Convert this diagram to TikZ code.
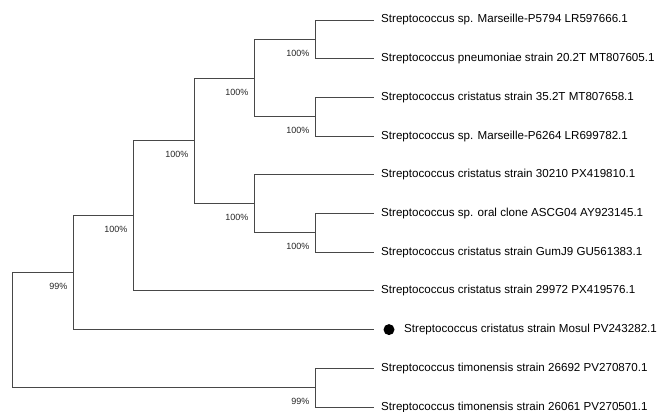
\documentclass[tikz,border=0pt]{standalone}
\usepackage{fontspec}
\setmainfont{Liberation Sans}
\begin{document}
\begin{tikzpicture}[x=1pt,y=-1pt,
  branch/.style={draw=black!72,line width=0.9pt},
  leaflabel/.style={anchor=west,inner sep=0pt,font=\fontsize{11.6}{13}\selectfont,text=black},
  boot/.style={anchor=east,inner sep=0pt,font=\fontsize{9}{10}\selectfont,text=black!85},
  dot/.style={circle,fill=black,inner sep=0pt,minimum size=11pt}]
\useasboundingbox (0,0) rectangle (662,412);
% leaf tips
\foreach \i in {1,...,11}{\coordinate (l\i) at (374,{20+38.7*(\i-1)});}
% internal nodes
\coordinate (A) at (315,39.35);
\coordinate (B) at (315,116.75);
\coordinate (C) at (254,78.05);
\coordinate (D) at (315,232.85);
\coordinate (E) at (254,203.8);
\coordinate (F) at (194,140.9);
\coordinate (G) at (133,215.9);
\coordinate (H) at (73,272.8);
\coordinate (I) at (315,387.65);
\coordinate (R) at (12.3,330.2);
% branches
\draw[branch] (A) |- (l1); \draw[branch] (A) |- (l2);
\draw[branch] (B) |- (l3); \draw[branch] (B) |- (l4);
\draw[branch] (C) |- (A); \draw[branch] (C) |- (B);
\draw[branch] (D) |- (l6); \draw[branch] (D) |- (l7);
\draw[branch] (E) |- (l5); \draw[branch] (E) |- (D);
\draw[branch] (F) |- (C); \draw[branch] (F) |- (E);
\draw[branch] (G) |- (F); \draw[branch] (G) |- (l8);
\draw[branch] (H) |- (G); \draw[branch] (H) |- (l9);
\draw[branch] (I) |- (l10); \draw[branch] (I) |- (l11);
\draw[branch] (R) |- (H); \draw[branch] (R) |- (I);
% leaf labels
\node[leaflabel] (t1) at ([xshift=7]l1) {Streptococcus sp. Marseille-P5794 LR597666.1};
\node[leaflabel] (t2) at ([xshift=7]l2) {Streptococcus pneumoniae strain 20.2T MT807605.1};
\node[leaflabel] (t3) at ([xshift=7]l3) {Streptococcus cristatus strain 35.2T MT807658.1};
\node[leaflabel] (t4) at ([xshift=7]l4) {Streptococcus sp. Marseille-P6264 LR699782.1};
\node[leaflabel] (t5) at ([xshift=7]l5) {Streptococcus cristatus strain 30210 PX419810.1};
\node[leaflabel] (t6) at ([xshift=7]l6) {Streptococcus sp. oral clone ASCG04 AY923145.1};
\node[leaflabel] (t7) at ([xshift=7]l7) {Streptococcus cristatus strain GumJ9 GU561383.1};
\node[leaflabel] (t8) at ([xshift=7]l8) {Streptococcus cristatus strain 29972 PX419576.1};
\node[dot] (m) at ([xshift=15]l9) {};
\node[leaflabel] (t9) at ([xshift=30]l9) {Streptococcus cristatus strain Mosul PV243282.1};
\node[leaflabel] (t10) at ([xshift=7]l10) {Streptococcus timonensis strain 26692 PV270870.1};
\node[leaflabel] (t11) at ([xshift=7]l11) {Streptococcus timonensis strain 26061 PV270501.1};
% bootstrap values
\foreach \n/\v in {A/100\%,B/100\%,C/100\%,D/100\%,E/100\%,F/100\%,G/100\%,H/99\%,I/99\%}{
  \node[boot] (b\n) at ([xshift=-5.5,yshift=-14]\n) {\v};}
\end{tikzpicture}
\end{document}
